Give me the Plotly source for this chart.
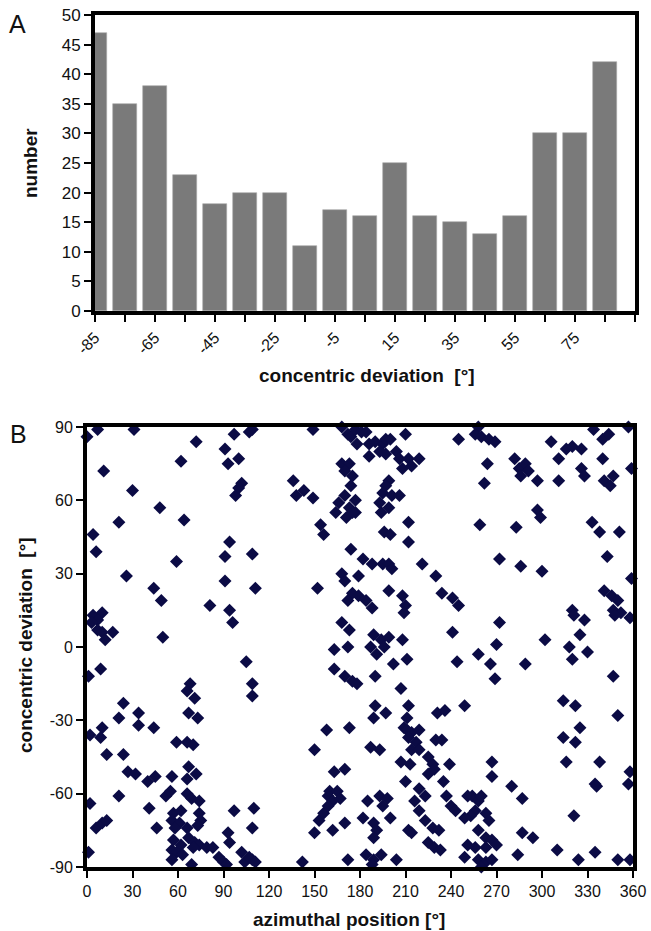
import plotly.graph_objects as go

# ---------------- Panel A data (histogram) ----------------
bin_centers = [-85, -75, -65, -55, -45, -35, -25, -15, -5, 5, 15, 25, 35, 45, 55, 65, 75, 85]
counts = [47, 35, 38, 23, 18, 20, 20, 11, 17, 16, 25, 16, 15, 13, 16, 30, 30, 42]
a_tickvals = [-85, -75, -65, -55, -45, -35, -25, -15, -5, 5, 15, 25, 35, 45, 55, 65, 75, 85, 95]
a_ticktext = ["-85", "", "-65", "", "-45", "", "-25", "", "-5", "", "15", "", "35", "", "55", "", "75", "", ""]
a_yticks = [0, 5, 10, 15, 20, 25, 30, 35, 40, 45, 50]

# ---------------- Panel B data (scatter) ----------------
azimuth = [
    # upper-left region
    0, 7, 31, 72, 11, 62, 91, 97, 93, 100, 109, 107, 102, 98, 100, 30, 48, 21, 64, 4, 6, 94, 91, 109,
    136, 138, 143, 149, 149, 154, 156,
    # upper-middle
    168, 172, 174, 177, 181, 184, 178, 186, 190, 195, 197, 200, 186, 193, 197, 204, 210, 206, 212, 219,
    208, 214, 168, 173, 170, 175, 174, 170, 177, 166, 173, 177, 164, 171, 175, 199, 197, 195, 201, 206,
    193, 194, 199, 212, 196, 200, 212,
    # upper-right
    245, 258, 256, 260, 265, 269, 264, 262, 259, 283, 297, 299, 282, 285, 289, 286, 291, 297, 306, 311,
    316, 320, 326, 311, 326, 328, 334, 340, 344, 340, 341, 345, 347, 357, 359, 333, 338, 351,
    # middle-left
    59, 26, 91, 44, 49, 111, 81, 94, 96, 152, 4, 10, 7, 3, 7, 10, 12, 17, 50, 9, 1, 105, 109, 109,
    68, 66, 71, 24, 21, 34, 34, 44, 67, 73, 10, 2, 9,
    # middle / middle-right
    174, 182, 188, 195, 199, 201, 221, 230, 234, 241, 245, 168, 170, 179, 175, 172, 179, 184, 188, 199,
    208, 210, 209, 168, 173, 189, 194, 199, 208, 196, 191, 202, 211, 187, 163, 172, 163, 170, 175, 178,
    190, 207, 241, 244, 272, 270, 258, 266, 269, 289, 302, 272, 286, 300, 343, 359, 320, 321, 328, 325,
    318, 320, 330, 341, 346, 350, 347, 352, 358, 348, 347, 190, 197, 189, 212, 211, 209, 231, 236, 249,
    158, 173, 314, 322, 350, 325, 314,
    # lower-left
    59, 66, 70, 13, 24, 150, 27, 32, 40, 45, 56, 67, 72, 66, 21, 2, 52, 55, 66, 69, 74, 41, 6, 10, 13,
    46, 57, 62, 56, 61, 58, 66, 74, 75, 73, 97, 110, 109, 93, 94, 57, 62, 67, 71, 74, 79, 56, 59, 63,
    70, 83, 87, 90, 1, 56, 69, 92, 102, 104, 109, 107, 111, 142, 150, 153, 156, 159,
    # lower-middle / lower-right
    211, 214, 219, 212, 217, 214, 219, 230, 234, 187, 193, 163, 170, 207, 213, 225, 228, 229, 239, 160,
    165, 162, 159, 167, 185, 193, 198, 195, 182, 189, 200, 191, 189, 162, 170, 210, 219, 216, 223, 219,
    223, 228, 232, 235, 237, 240, 243, 225, 212, 214, 225, 229, 233, 251, 254, 258, 260, 263, 265, 256,
    253, 249, 258, 263, 267, 270, 251, 256, 263, 249, 258, 263, 267, 260, 267, 267, 280, 287, 287, 294,
    284, 310, 316, 322, 321, 324, 335, 338, 335, 336, 350, 358, 358, 357, 172, 184, 189, 194, 188, 204,
]
deviation = [
    # upper-left region
    86, 89, 89, 84, 72, 76, 81, 87, 75, 77, 89, 88, 67, 62, 65, 64, 57, 51, 52, 46, 39, 43, 37, 38,
    68, 62, 64, 61, 89, 50, 46,
    # upper-middle
    90, 87, 86, 89, 88, 88, 83, 83, 84, 83, 85, 85, 78, 80, 79, 80, 87, 77, 77, 77,
    73, 74, 75, 75, 72, 70, 66, 62, 60, 59, 57, 55, 55, 53, 55, 68, 66, 63, 62, 62,
    59, 55, 57, 51, 47, 46, 43,
    # upper-right
    85, 90, 87, 86, 85, 84, 75, 67, 50, 49, 56, 53, 77, 73, 75, 70, 72, 68, 84, 77,
    81, 82, 81, 68, 73, 70, 89, 85, 87, 77, 68, 66, 70, 90, 73, 51, 47, 47,
    # middle-left
    35, 29, 27, 24, 19, 24, 17, 15, 10, 24, 13, 14, 11, 10, 7, 6, 3, 6, 4, -9, -12, -6, -15, -20,
    -15, -18, -21, -23, -29, -27, -32, -33, -27, -29, -33, -36, -37,
    # middle / middle-right
    40, 36, 34, 34, 34, 32, 34, 29, 22, 20, 17, 30, 27, 29, 22, 19, 21, 19, 16, 23,
    21, 17, 14, 10, 7, 5, 3, 4, 3, 0, -3, -7, -5, 0, -1, 0, -9, -12, -14, -15,
    -12, -17, 6, -6, 10, 1, -3, -7, -13, -7, 3, 36, 33, 31, 37, 28, 15, 13, 11, 5,
    0, -5, -2, 23, 21, 19, 15, 14, 12, 13, -12, -24, -27, -29, -24, -29, -33, -27, -26, -24,
    -34, -33, -22, -24, -28, -33, -37,
    # lower-left
    -39, -39, -40, -44, -44, -42, -51, -52, -55, -53, -53, -49, -52, -54, -61, -64, -61, -59, -60, -62, -63, -66, -74, -72, -71,
    -74, -68, -67, -71, -72, -74, -74, -68, -71, -73, -67, -66, -74, -76, -80, -79, -81, -78, -80, -81, -82, -83, -84, -85,
    -82, -82, -86, -88, -84, -87, -89, -89, -84, -88, -87, -86, -88, -88, -76, -71, -68, -61,
    # lower-middle / lower-right
    -34, -35, -34, -37, -39, -42, -42, -38, -38, -41, -42, -51, -50, -47, -48, -45, -48, -50, -48, -59,
    -59, -63, -65, -62, -63, -61, -62, -65, -70, -72, -70, -75, -78, -75, -72, -55, -58, -63, -61, -67,
    -71, -74, -75, -55, -61, -65, -67, -52, -75, -76, -80, -82, -83, -61, -61, -63, -61, -68, -71, -67,
    -69, -70, -75, -78, -79, -81, -81, -82, -82, -86, -87, -88, -87, -90, -47, -53, -57, -62, -76, -78,
    -85, -83, -47, -39, -69, -87, -84, -47, -56, -57, -87, -87, -51, -56, -87, -85, -87, -85, -89, -87,
]

x_ticks_b = [0, 30, 60, 90, 120, 150, 180, 210, 240, 270, 300, 330, 360]
y_ticks_b = [-90, -60, -30, 0, 30, 60, 90]
y_ticktext_b = ["-90", "-60", "-30", "0", "30", "60", "90"]

# The figure fills the whole 651x931 window (page body margin is removed
# by the post script below), so layout positions are window pixels.
W, H = 651, 931
FONT = "Arial, Liberation Sans, sans-serif"
NAVY = "#0b0b45"

def px_x(p):
    return p / W

def px_y(p):
    return 1 - p / H

fig = go.Figure()

fig.add_trace(go.Bar(
    x=bin_centers, y=counts, width=8,
    marker=dict(color="#7a7a7a", line=dict(color="#a8a8a8", width=0.6)),
    xaxis="x", yaxis="y", showlegend=False,
))

fig.add_trace(go.Scatter(
    x=azimuth, y=deviation, mode="markers",
    marker=dict(symbol="diamond", size=10, color=NAVY, line=dict(width=0)),
    cliponaxis=False, xaxis="x2", yaxis="y2", showlegend=False,
))

def axis_common(fs):
    return dict(
        showline=True, linewidth=4, linecolor="black", mirror=True,
        ticks="outside", ticklen=7, tickwidth=2, tickcolor="black",
        showgrid=False, zeroline=False, automargin=False,
        ticklabeloverflow="allow",
        tickfont=dict(family=FONT, size=fs, color="#111111"),
    )

fig.update_layout(
    template="none",
    width=W, height=H,
    margin=dict(l=0, r=0, t=0, b=0, pad=0, autoexpand=False),
    paper_bgcolor="white", plot_bgcolor="white",
    font=dict(family=FONT, color="#111111"),
    bargap=0,
    xaxis=dict(
        domain=[px_x(95), px_x(635)], range=[-85, 95], anchor="y",
        tickmode="array", tickvals=a_tickvals, ticktext=a_ticktext, tickangle=-45,
        **axis_common(16),
    ),
    yaxis=dict(
        domain=[px_y(311), px_y(15)], range=[0, 50], anchor="x",
        tickmode="array", tickvals=a_yticks,
        **axis_common(17),
    ),
    xaxis2=dict(
        domain=[px_x(87), px_x(633)], range=[0, 360], anchor="y2",
        tickmode="array", tickvals=x_ticks_b,
        **axis_common(16),
    ),
    yaxis2=dict(
        domain=[px_y(867), px_y(427)], range=[-90, 90], anchor="x2",
        tickmode="array", tickvals=y_ticks_b, ticktext=y_ticktext_b,
        **axis_common(16),
    ),
)

title_font = dict(family=FONT, size=19, color="#111111")
ann = [
    dict(text="A", x=px_x(17), y=px_y(24), font=dict(family=FONT, size=25, color="#111111")),
    dict(text="B", x=px_x(18), y=px_y(434), font=dict(family=FONT, size=25, color="#111111")),
    dict(text="<b>concentric deviation  [°]</b>", x=px_x(367), y=px_y(376), font=title_font),
    dict(text="<b>number</b>", x=px_x(31), y=px_y(163), font=title_font, textangle=-90),
    dict(text="<b>azimuthal position [°]</b>", x=px_x(349), y=px_y(919), font=title_font),
    dict(text="<b>concentric deviation  [°]</b>", x=px_x(25), y=px_y(645), font=title_font, textangle=-90),
]
for a in ann:
    fig.add_annotation(xref="paper", yref="paper", showarrow=False,
                       xanchor="center", yanchor="middle", **a)

fig.write_html(
    "out.html",
    config={"displayModeBar": False},
    post_script="document.body.style.margin='0px';document.body.style.overflow='hidden';",
)
